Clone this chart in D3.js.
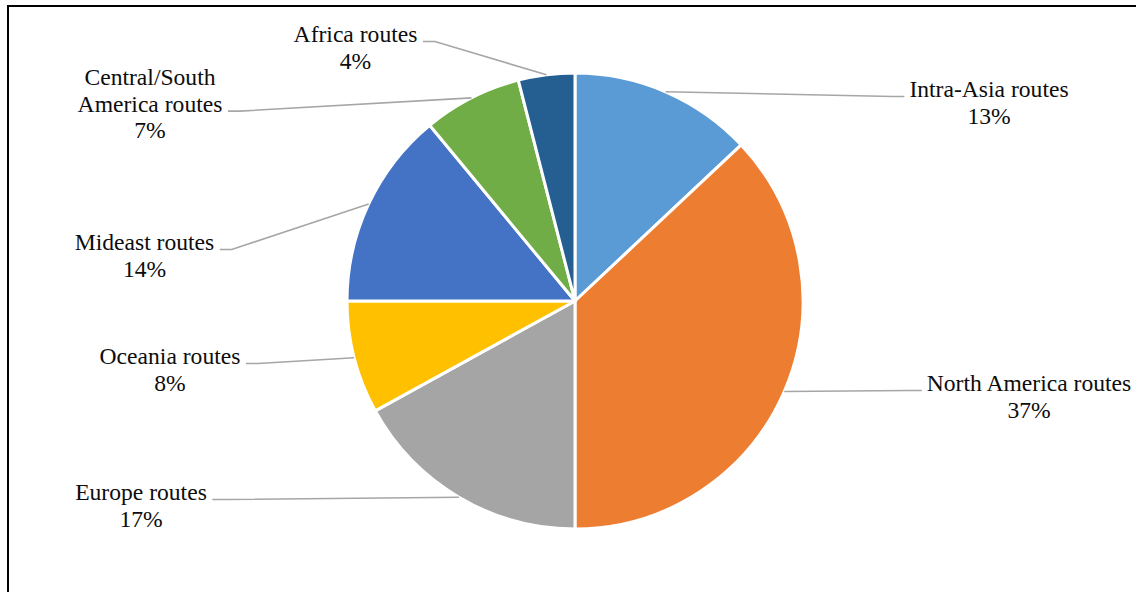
<!DOCTYPE html>
<html>
<head>
<meta charset="utf-8">
<script src="https://cdn.jsdelivr.net/npm/d3@7"></script>
<style>
  html, body { margin: 0; padding: 0; background: #fff; }
  svg { display: block; }
  .lbl { font-family: "Liberation Serif", "Times New Roman", serif; font-size: 23.6px; fill: #0d0d0d; }
</style>
</head>
<body>
<svg id="chart" width="1136" height="592"></svg>
<script>
// Share of routes by trade lane (percent)
const categories = [
  "Intra-Asia routes", "North America routes", "Europe routes", "Oceania routes",
  "Mideast routes", "Central/South America routes", "Africa routes"
];
const shares = [13, 37, 17, 8, 14, 7, 4];
const sliceColors = ["#5B9BD5", "#ED7D31", "#A5A5A5", "#FFC000", "#4472C4", "#70AD47", "#255E91"];
// How each category name wraps in its label
const nameLines = [
  ["Intra-Asia routes"], ["North America routes"], ["Europe routes"], ["Oceania routes"],
  ["Mideast routes"], ["Central/South", "America routes"], ["Africa routes"]
];

// Label placement: centre x, baseline of first line, side the leader leaves from
const labelLayout = [
  { x: 989,   y: 97,  side: "left"  },
  { x: 1029,  y: 391, side: "left"  },
  { x: 141,   y: 500, side: "right" },
  { x: 170,   y: 364, side: "right" },
  { x: 144.5, y: 250, side: "right" },
  { x: 150,   y: 85,  side: "right" },
  { x: 355.5, y: 42,  side: "right" }
];

const W = 1136, H = 592;
const cx = 575, cy = 301, R = 228;
const lineH = 26.6;

const svg = d3.select("#chart");

// Chart frame (only top and left edges fall inside the view)
svg.append("rect")
  .attr("x", 8).attr("y", 6)
  .attr("width", W + 20).attr("height", H + 20)
  .attr("fill", "none").attr("stroke", "#000").attr("stroke-width", 2);

const data = categories.map((c, i) => ({ name: c, value: shares[i], i }));

const pie = d3.pie().sort(null).value(d => d.value);
const arcs = pie(data);
const arc = d3.arc().innerRadius(0).outerRadius(R);
const color = d3.scaleOrdinal().domain(categories).range(sliceColors);

const g = svg.append("g").attr("transform", `translate(${cx},${cy})`);

g.selectAll("path.slice")
  .data(arcs)
  .enter().append("path")
  .attr("class", "slice")
  .attr("d", arc)
  .attr("fill", d => color(d.data.name))
  .attr("stroke", "#fff")
  .attr("stroke-width", 3)
  .attr("stroke-linejoin", "round");

// Labels and leader lines
const labels = svg.append("g");
arcs.forEach((a, i) => {
  const lay = labelLayout[i];
  const lines = nameLines[i].concat([`${a.data.value}%`]);
  const grp = labels.append("g");
  const texts = lines.map((t, k) =>
    grp.append("text").attr("class", "lbl")
      .attr("x", lay.x).attr("y", lay.y + k * lineH)
      .attr("text-anchor", "middle").text(t)
  );
  // leader attaches to the last name line
  const k = nameLines[i].length - 1;
  const w = texts[k].node().getComputedTextLength();
  const ly = lay.y + k * lineH - 0.5;
  const x0 = lay.side === "right" ? lay.x + w / 2 + 5.5 : lay.x - w / 2 - 5;
  const x1 = lay.side === "right" ? x0 + 12 : x0 - 12;
  const mid = (a.startAngle + a.endAngle) / 2;
  const [px, py] = d3.pointRadial(mid, R);
  const pts = [[x0, ly], [x1, ly], [cx + px, cy + py]];
  labels.insert("path", ":first-child")
    .attr("d", d3.line()(pts))
    .attr("fill", "none")
    .attr("stroke", "#a6a6a6")
    .attr("stroke-width", 1.6);
});
</script>
</body>
</html>
